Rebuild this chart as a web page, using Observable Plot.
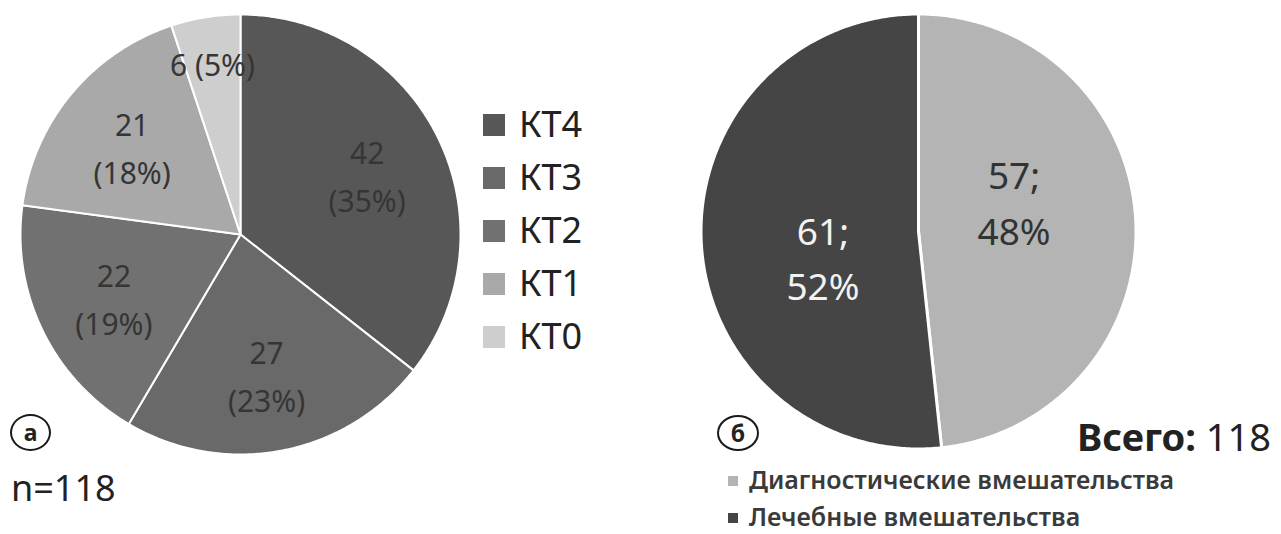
<!DOCTYPE html>
<html>
<head>
<meta charset="utf-8">
<script src="https://cdn.jsdelivr.net/npm/d3@7"></script>
<script src="https://cdn.jsdelivr.net/npm/@observablehq/plot@0.6"></script>
<style>
  html, body { margin: 0; padding: 0; background: #ffffff; }
  #root { position: relative; width: 1281px; height: 534px; overflow: hidden; font-family: "Noto Sans", sans-serif; color: #222; }
  .abs { position: absolute; white-space: nowrap; }
  .circ { position: absolute; border: 2.5px solid #1a1a1a; border-radius: 50%; box-sizing: border-box; display: flex; align-items: center; justify-content: center; font-weight: bold; font-size: 23px; line-height: 1; color: #222; }
</style>
</head>
<body>
<div id="root"></div>
<script>
// ---- Data: chart (а) ----
const catsA = ["КТ4", "КТ3", "КТ2", "КТ1", "КТ0"];
const valuesA = [42, 27, 22, 21, 6];
const pctA = [35, 23, 19, 18, 5];
const colorsA = ["#575757", "#696969", "#717171", "#a9a9a9", "#cecece"];
const nLabelA = "n=118";

// ---- Data: chart (б) ----
const catsB = ["Диагностические вмешательства", "Лечебные вмешательства"];
const valuesB = [57, 61];
const pctB = [48, 52];
const colorsB = ["#b4b4b4", "#454545"];
const labelColorsB = ["#333333", "#f2f2f2"];
const totalWord = "Всего:";
const totalValue = 118;

const root = document.getElementById("root");

function wedges(cats, values) {
  const arcs = d3.pie().sort(null).value(d => d)(values);
  const pts = [];
  arcs.forEach((a, i) => {
    pts.push({cat: cats[i], x: 0, y: 0});
    const n = Math.max(4, Math.ceil((a.endAngle - a.startAngle) / 0.01));
    for (let k = 0; k <= n; k++) {
      const t = a.startAngle + (a.endAngle - a.startAngle) * k / n;
      pts.push({cat: cats[i], x: Math.sin(t), y: Math.cos(t)});
    }
  });
  return {arcs, pts};
}

function place(el, left, top) {
  el.style.left = left + "px";
  el.style.top = top + "px";
  root.appendChild(el);
}
function textAt(html, left, baseline, size, extra = {}) {
  const d = document.createElement("div");
  d.className = "abs";
  d.innerHTML = html;
  d.style.fontSize = size + "px";
  d.style.lineHeight = size + "px";
  Object.assign(d.style, extra);
  place(d, left, baseline - size * 0.888);
  return d;
}

// ---- Pie (а) ----
{
  const {arcs, pts} = wedges(catsA, valuesA);
  const labels = arcs.map((a, i) => {
    const mid = (a.startAngle + a.endAngle) / 2;
    const frac = valuesA[i] / d3.sum(valuesA);
    const small = frac < 0.1;
    const r = small ? 0.8 : 0.64;
    return {
      x: r * Math.sin(mid), y: r * Math.cos(mid),
      text: valuesA[i] + (small ? " " : "\n") + "(" + pctA[i] + "%)"
    };
  });
  const size = 460, R = 220, e = (size / 2) / R;
  const chart = Plot.plot({
    width: size, height: size, margin: 0,
    x: {domain: [-e, e], axis: null},
    y: {domain: [-e, e], axis: null},
    color: {domain: catsA, range: colorsA},
    style: {background: "transparent", fontFamily: "'Noto Sans', sans-serif"},
    marks: [
      Plot.line(pts, {x: "x", y: "y", z: "cat", fill: "cat", stroke: "#ffffff", strokeWidth: 2, curve: "linear-closed"}),
      Plot.text(labels, {x: "x", y: "y", text: "text", fontSize: 30, lineHeight: 1.6, fill: "#353535"})
    ]
  });
  chart.style.position = "absolute";
  place(chart, 240 - size / 2, 234 - size / 2);

  // legend
  catsA.forEach((c, i) => {
    const cy = 124.5 + 53 * i;
    const sq = document.createElement("div");
    sq.className = "abs";
    sq.style.width = "22px"; sq.style.height = "22px"; sq.style.background = colorsA[i];
    place(sq, 483, cy - 11);
    textAt(c, 519, cy + 13, 36, {color: "#222"});
  });

  const ca = document.createElement("div");
  ca.className = "circ";
  ca.style.width = "41px"; ca.style.height = "37px";
  ca.textContent = "а";
  place(ca, 10, 414);

  textAt(nLabelA, 11, 502, 36, {color: "#222"});
}

// ---- Pie (б) ----
{
  const {arcs, pts} = wedges(catsB, valuesB);
  const labels = arcs.map((a, i) => {
    const mid = (a.startAngle + a.endAngle) / 2;
    const r = 0.44;
    return {
      x: r * Math.sin(mid), y: r * Math.cos(mid),
      side: Math.sin(mid) >= 0 ? "right" : "left",
      text: valuesB[i] + ";\n" + pctB[i] + "%",
      color: labelColorsB[i]
    };
  });
  const size = 460, R = 217.5, e = (size / 2) / R;
  const chart = Plot.plot({
    width: size, height: size, margin: 0,
    x: {domain: [-e, e], axis: null},
    y: {domain: [-e, e], axis: null},
    color: {domain: catsB, range: colorsB},
    style: {background: "transparent", fontFamily: "'Noto Sans', sans-serif"},
    marks: [
      Plot.line(pts, {x: "x", y: "y", z: "cat", fill: "cat", stroke: "#ffffff", strokeWidth: 3, curve: "linear-closed"}),
      Plot.text(labels.filter(d => d.side === "right"), {x: "x", y: "y", text: "text", fontSize: 37, lineHeight: 1.5, dy: -27, fill: "color"}),
      Plot.text(labels.filter(d => d.side === "left"), {x: "x", y: "y", text: "text", fontSize: 37, lineHeight: 1.5, dy: 18, fill: "color"})
    ]
  });
  chart.style.position = "absolute";
  place(chart, 918 - size / 2, 231 - size / 2);

  const cb = document.createElement("div");
  cb.className = "circ";
  cb.style.width = "42px"; cb.style.height = "36px";
  cb.textContent = "б";
  place(cb, 717, 415);

  textAt("<b>" + totalWord + "</b> " + totalValue, 1077, 451, 38, {color: "#222"});

  catsB.forEach((c, i) => {
    const cy = 481 + 37 * i;
    const sq = document.createElement("div");
    sq.className = "abs";
    sq.style.width = "10px"; sq.style.height = "10px"; sq.style.background = colorsB[i];
    place(sq, 728, cy - 5);
    textAt(c, 749, cy + 8, 25, {color: "#3a3a3a", fontWeight: "600"});
  });
}
</script>
</body>
</html>
